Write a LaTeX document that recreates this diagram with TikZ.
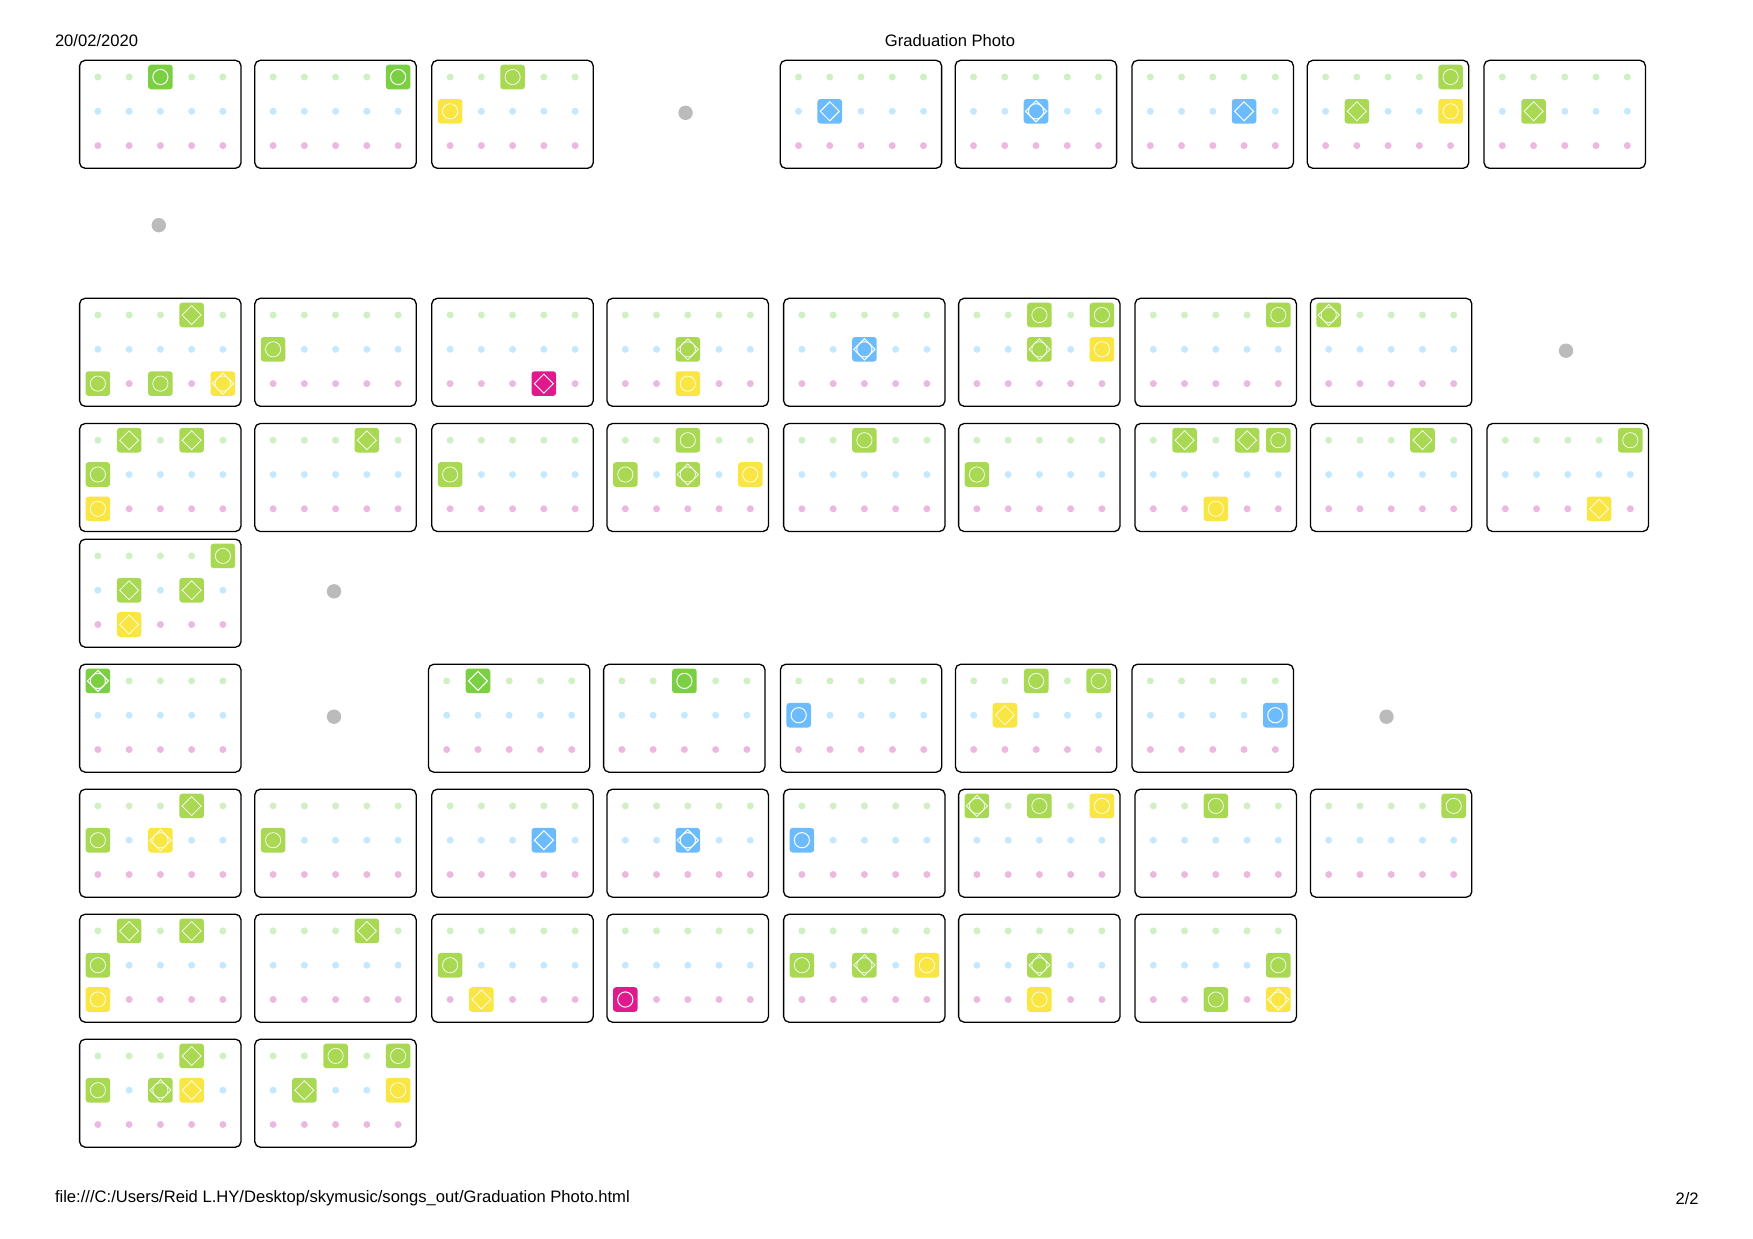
\documentclass[tikz,border=0pt]{standalone}
\usepackage{fontspec}
\setmainfont{Liberation Sans}

\definecolor{keyDG}{HTML}{7BCF42}
\definecolor{keyLG}{HTML}{A9D953}
\definecolor{keyYE}{HTML}{F9E642}
\definecolor{keyBL}{HTML}{6CBCFD}
\definecolor{keyMA}{HTML}{E01A8E}
\definecolor{dotG}{HTML}{CEF0C2}
\definecolor{dotB}{HTML}{C4E9FF}
\definecolor{dotP}{HTML}{EDB8E0}
\definecolor{pauseGrey}{HTML}{BBBBBB}

\tikzset{
    cardbox/.style={draw=black, line width=1.3pt, rounded corners=5.5pt},
    keybox/.style={rounded corners=3pt},
    thickmark/.style={draw=white, line width=1pt},
    thinmark/.style={draw=white, line width=.7pt},
    markDG/.style={thickmark},
    markBL/.style={thickmark},
    markMA/.style={thickmark},
    markLG/.style={thinmark},
    markYE/.style={thinmark},
    pagetext/.style={font=\fontsize{16.6}{18}\selectfont, inner sep=0pt}
}

\begin{document}
\begin{tikzpicture}[x=1pt, y=-1pt]
\useasboundingbox (0,0) rectangle (1753,1239);

\node[pagetext, anchor=west] (datetext) at (54.8,40.8) {20/02/2020};
\node[pagetext] (titletext) at (950,40.8) {Graduation Photo};
\node[pagetext, anchor=west] (pathtext) at (54.8,1198.6) {file:///C:/Users/Reid L.HY/Desktop/skymusic/songs\_out/Graduation Photo.html};
\node[pagetext, anchor=east] (pagetext) at (1698.8,1198.6) {2/2};

% pauses between the phrases
\foreach \px/\py in {685.6/112.8, 158.8/225.2, 1566/350.7, 334/591.3, 334/716.7, 1386.5/716.7} {
    \fill[pauseGrey] (\px,\py) circle (7.2pt);
}

% one card per chord: left/top/{column/row/colour/shape}, c ring, d diamond, b both
\foreach \cx/\cy/\keys in {
    79.6/60.3/{2/0/DG/c},
    254.8/60.3/{4/0/DG/c},
    431.8/60.3/{2/0/LG/c, 0/1/YE/c},
    780.2/60.3/{1/1/BL/d},
    955.2/60.3/{2/1/BL/b},
    1132/60.3/{3/1/BL/d},
    1307.3/60.3/{4/0/LG/c, 1/1/LG/d, 4/1/YE/c},
    1484/60.3/{1/1/LG/d},
    79.6/298.3/{3/0/LG/d, 0/2/LG/c, 2/2/LG/c, 4/2/YE/b},
    254.8/298.3/{0/1/LG/c},
    431.8/298.3/{3/2/MA/d},
    607/298.3/{2/1/LG/b, 2/2/YE/c},
    783.6/298.3/{2/1/BL/b},
    958.6/298.3/{2/0/LG/c, 4/0/LG/c, 2/1/LG/b, 4/1/YE/c},
    1135/298.3/{4/0/LG/c},
    1310.4/298.3/{0/0/LG/b},
    79.6/423.5/{1/0/LG/d, 3/0/LG/d, 0/1/LG/c, 0/2/YE/c},
    254.8/423.5/{3/0/LG/d},
    431.8/423.5/{0/1/LG/c},
    607/423.5/{2/0/LG/c, 0/1/LG/c, 2/1/LG/b, 4/1/YE/c},
    783.6/423.5/{2/0/LG/c},
    958.6/423.5/{0/1/LG/c},
    1135/423.5/{1/0/LG/d, 3/0/LG/d, 4/0/LG/c, 2/2/YE/c},
    1310.4/423.5/{3/0/LG/d},
    1487/423.5/{4/0/LG/c, 3/2/YE/d},
    79.6/539.2/{4/0/LG/c, 1/1/LG/d, 3/1/LG/d, 1/2/YE/d},
    79.6/664.2/{0/0/DG/b},
    428.4/664.2/{1/0/DG/d},
    603.6/664.2/{2/0/DG/c},
    780.4/664.2/{0/1/BL/c},
    955.4/664.2/{2/0/LG/c, 4/0/LG/c, 1/1/YE/d},
    1132/664.2/{4/1/BL/c},
    79.6/789.2/{3/0/LG/d, 0/1/LG/c, 2/1/YE/b},
    254.8/789.2/{0/1/LG/c},
    431.8/789.2/{3/1/BL/d},
    607/789.2/{2/1/BL/b},
    783.6/789.2/{0/1/BL/c},
    958.6/789.2/{0/0/LG/b, 2/0/LG/c, 4/0/YE/c},
    1135/789.2/{2/0/LG/c},
    1310.4/789.2/{4/0/LG/c},
    79.6/914.2/{1/0/LG/d, 3/0/LG/d, 0/1/LG/c, 0/2/YE/c},
    254.8/914.2/{3/0/LG/d},
    431.8/914.2/{0/1/LG/c, 1/2/YE/d},
    607/914.2/{0/2/MA/c},
    783.6/914.2/{0/1/LG/c, 2/1/LG/b, 4/1/YE/c},
    958.6/914.2/{2/1/LG/b, 2/2/YE/c},
    1135/914.2/{4/1/LG/c, 2/2/LG/c, 4/2/YE/b},
    79.6/1039.2/{3/0/LG/d, 0/1/LG/c, 2/1/LG/b, 3/1/YE/d},
    254.8/1039.2/{2/0/LG/c, 4/0/LG/c, 1/1/LG/d, 4/1/YE/c}%
} {
    \begin{scope}[shift={(\cx,\cy)}]
        \draw[cardbox] (0,0) rectangle (161.4,108);

        \foreach \r/\dotcol in {0/dotG, 1/dotB, 2/dotP} {
            \foreach \c in {0,...,4} {
                \fill[\dotcol] ({18.3+31.25*\c},{16.7+34.3*\r}) circle (3.5pt);
            }
        }

        \foreach \c/\r/\keycol/\shp in \keys {
            \begin{scope}[shift={({18.3+31.25*\c},{16.7+34.3*\r})}]
                \fill[keybox, fill=key\keycol] (-12.3,-12.3) rectangle (12.3,12.3);
                \if\shp d
                    \draw[mark\keycol] (-9.5,0) -- (0,-9.5) -- (9.5,0) -- (0,9.5) -- cycle;
                \else
                    \draw[mark\keycol] (0,0) circle (7.6pt);
                \fi
                \if\shp b
                    \draw[mark\keycol] (-10.6,0) -- (0,-10.6) -- (10.6,0) -- (0,10.6) -- cycle;
                \fi
            \end{scope}
        }
    \end{scope}
}

\end{tikzpicture}
\end{document}
